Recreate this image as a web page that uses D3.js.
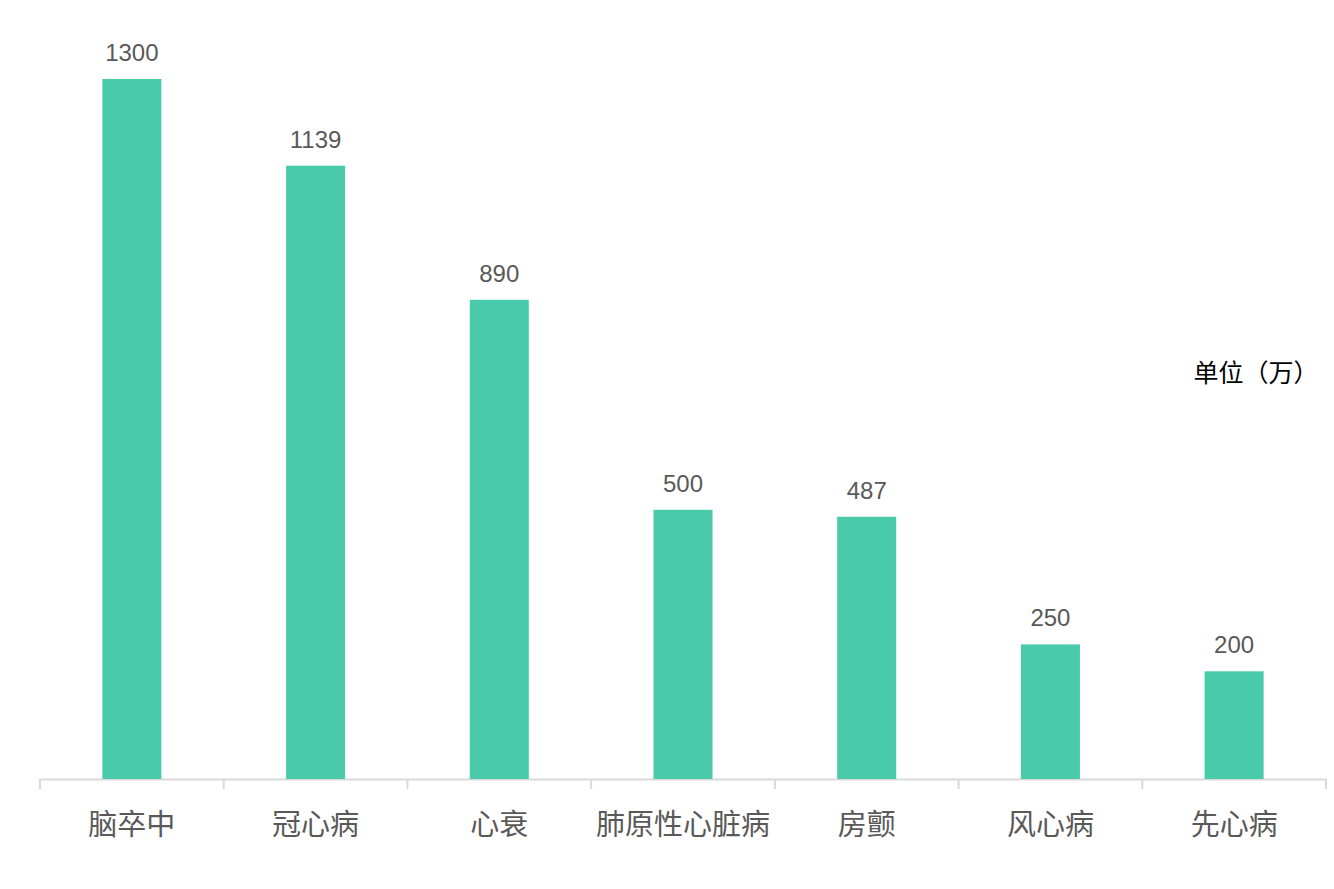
<!DOCTYPE html>
<html>
<head>
<meta charset="utf-8">
<script src="https://cdn.jsdelivr.net/npm/d3@7"></script>
<style>
  body { margin: 0; background: #fff; }
</style>
</head>
<body>
<div id="viz"></div>
<script>
var categories = ['脑卒中', '冠心病', '心衰', '肺原性心脏病', '房颤', '风心病', '先心病'];
var values = [1300, 1139, 890, 500, 487, 250, 200];
var unitLabel = '单位（万）';

var width = 1334,
    height = 889,
    margin = { top: 79, right: 8, bottom: 110, left: 40 };

var svg = d3.select('#viz').append('svg')
  .attr('width', width)
  .attr('height', height);

var xScale = d3.scaleBand()
  .domain(categories)
  .range([margin.left, width - margin.right])
  .paddingInner(0)
  .paddingOuter(0);

var yScale = d3.scaleLinear()
  .domain([0, 1300])
  .range([height - margin.bottom, margin.top]);

var barW = 59;

// axis line + ticks
var xAxis = d3.axisBottom(xScale).tickSize(0).tickFormat('');
var axisG = svg.append('g')
  .attr('transform', 'translate(0,' + yScale(0) + ')')
  .call(xAxis);
axisG.select('.domain').attr('stroke', '#d9d9d9').attr('stroke-width', 2);

var tickPos = categories.map(function(c) { return xScale(c); });
tickPos.push(xScale.range()[1]);
axisG.selectAll('line.tk').data(tickPos)
  .enter().append('line')
    .attr('class', 'tk')
    .attr('x1', function(d) { return d; })
    .attr('x2', function(d) { return d; })
    .attr('y1', 0)
    .attr('y2', 10)
    .attr('stroke', '#d9d9d9')
    .attr('stroke-width', 2);

// bars
svg.selectAll('rect.bar').data(values)
  .enter().append('rect')
    .attr('class', 'bar')
    .attr('fill', '#48caab')
    .attr('x', function(d, i) { return xScale(categories[i]) + xScale.bandwidth() / 2 - barW / 2; })
    .attr('width', barW)
    .attr('y', function(d) { return yScale(d); })
    .attr('height', function(d) { return yScale(0) - yScale(d); });

// value labels
svg.selectAll('text.val').data(values)
  .enter().append('text')
    .attr('class', 'val')
    .attr('x', function(d, i) { return xScale(categories[i]) + xScale.bandwidth() / 2; })
    .attr('y', function(d) { return yScale(d) - 18; })
    .attr('text-anchor', 'middle')
    .attr('fill', '#595959')
    .style('font-family', '"Liberation Sans", Arial, sans-serif')
    .style('font-size', '24px')
    .text(function(d) { return d; });

// category labels
svg.selectAll('text.cat').data(categories)
  .enter().append('text')
    .attr('class', 'cat')
    .attr('x', function(d) { return xScale(d) + xScale.bandwidth() / 2; })
    .attr('y', yScale(0) + 56)
    .attr('text-anchor', 'middle')
    .attr('fill', '#595959')
    .style('font-family', '"Noto Sans CJK SC", sans-serif')
    .style('font-size', '29px')
    .text(function(d) { return d; });

// unit
svg.append('text')
  .attr('x', 1256)
  .attr('y', 382)
  .attr('text-anchor', 'middle')
  .attr('fill', '#000')
  .style('font-family', '"Noto Sans CJK SC", sans-serif')
  .style('font-size', '25px')
  .text(unitLabel);
</script>
</body>
</html>
